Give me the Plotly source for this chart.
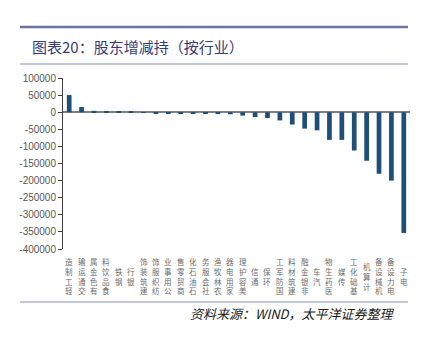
import plotly.graph_objects as go

categories = ["轻工制造", "交通运输", "有色金属", "食品饮料", "钢铁", "银行", "建筑装饰",
              "纺织服饰", "公用事业", "商贸零售", "石油石化", "社会服务", "农林牧渔", "家用电器",
              "美容护理", "通信", "环保", "国防军工", "建筑材料", "非银金融", "汽车", "医药生物",
              "传媒", "基础化工", "计算机", "机械设备", "电力设备", "电子"]
values = [50000, 15000, 4000, 2000, 1500, 1000, -2000, -2500, -3500, -4000, -4000, -4500,
          -5500, -6000, -10000, -14000, -17000, -24000, -36000, -48000, -53000, -81000,
          -81000, -112000, -142000, -180000, -200000, -353000]
y_ticks = [100000, 50000, 0, -50000, -100000, -150000, -200000, -250000, -300000, -350000, -400000]

W, H = 428, 338
L, R, T, B = 63, 18, 78, 89
PW, PH = W - L - R, H - T - B

def px(x):
    return (x - L) / PW

def py(y):
    return (H - B - y) / PH

fig = go.Figure(go.Bar(
    x=categories, y=values, marker_color="#1F4E79", width=0.38,
    marker_line_width=0,
))

fig.update_layout(
    width=W, height=H,
    margin=dict(l=L, r=R, t=T, b=B),
    paper_bgcolor="white", plot_bgcolor="white",
    showlegend=False,
    font=dict(family="Noto Sans CJK SC, Arial", color="#595959"),
    bargap=0.6,
)
fig.update_xaxes(showticklabels=False, showline=False, showgrid=False, ticks="",
                 zeroline=False, range=[-0.5, len(categories) - 0.5])
fig.update_yaxes(range=[-400000, 100000], tickvals=y_ticks, ticktext=[str(v) for v in y_ticks],
                 showgrid=False, showline=True, linecolor="#404040", linewidth=1,
                 ticks="outside", ticklen=4, tickcolor="#404040",
                 tickfont=dict(size=10, family="Arial, Liberation Sans", color="#595959"),
                 zeroline=True, zerolinecolor="#808080", zerolinewidth=2)

annotations = []
for c in categories:
    txt = "<br>".join(reversed(list(c)))
    annotations.append(dict(x=c, xref="x", y=py(276), yref="paper", text=txt,
                            showarrow=False, xanchor="center", yanchor="middle",
                            align="center",
                            font=dict(size=7.5, color="#6B6B6B",
                                      family="Noto Sans CJK SC")))

annotations.append(dict(x=px(30), y=py(46), xref="paper", yref="paper",
                        text="图表20：股东增减持（按行业）", showarrow=False,
                        xanchor="left", yanchor="middle",
                        font=dict(size=15, color="#363B78", family="Noto Sans CJK SC")))
annotations.append(dict(x=px(397), y=py(313), xref="paper", yref="paper",
                        text="<i>资料来源：WIND，太平洋证券整理</i>", showarrow=False,
                        xanchor="right", yanchor="middle",
                        font=dict(size=13, color="#222222", family="Noto Sans CJK SC")))
fig.update_layout(annotations=annotations)

shapes = [
    dict(type="line", xref="paper", yref="paper", x0=px(20), x1=px(408), y0=py(27), y1=py(27),
         line=dict(color="#6E73A3", width=2.5)),
    dict(type="line", xref="paper", yref="paper", x0=px(20), x1=px(408), y0=py(64), y1=py(64),
         line=dict(color="#8B8FBF", width=1)),
    dict(type="line", xref="paper", yref="paper", x0=px(20), x1=px(408), y0=py(302), y1=py(302),
         line=dict(color="#8B8FBF", width=1)),
]
fig.update_layout(shapes=shapes)

fig.write_html("out.html")
